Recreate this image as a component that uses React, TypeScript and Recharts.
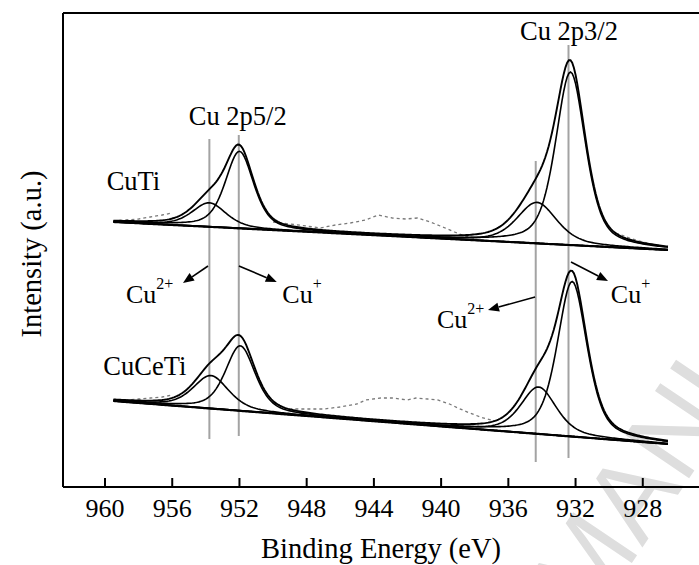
import React from 'react';
import { ComposedChart, Line, XAxis, YAxis, ReferenceLine, ReferenceDot } from 'recharts';

const SERIF = 'Liberation Serif, Tinos, DejaVu Serif, Noto Serif, serif';
const SANS = 'Liberation Sans, Arimo, DejaVu Sans, sans-serif';

// Binding-energy axis (eV, drawn high → low)
const energyTicks = [960, 956, 952, 948, 944, 940, 936, 932, 928];
const energyDomain: [number, number] = [924, 962.5];
const intensityDomain: [number, number] = [0, 474];

// Scan range of the fitted envelopes
const scanStart = 959.5;
const scanEnd = 926.5;
const scanStep = 0.1;

// Linear backgrounds: intensity at scanStart and at scanEnd
const cuTiBackground = [265, 237];
const cuCeTiBackground = [86, 43];

// Fitted components, in order: Cu2+ 2p1/2, Cu+ 2p1/2, Cu2+ 2p3/2, Cu+ 2p3/2
const cuTiCenters = [953.8, 952.0, 934.3, 932.3];
const cuTiHeights = [24, 77, 41, 173];
const cuTiFwhm = [2.4, 2.0, 2.8, 2.1];

const cuCeTiCenters = [953.7, 951.95, 934.2, 932.2];
const cuCeTiHeights = [33, 65, 47, 155];
const cuCeTiFwhm = [2.5, 2.1, 2.5, 2.1];

const lorentzFraction = 0.5;

// Measured counts (null = hidden under the fitted envelope)
const cuTiRaw: [number, number | null][] = [
  [959.5, 266], [958.8, 267], [958.0, 268], [957.3, 270], [956.6, 272], [956.0, 274], [955.4, null],
  [950.0, 265], [949.0, 263], [948.0, 261], [947.2, 259], [946.3, 262], [945.4, 264], [944.5, 267],
  [943.75, 272], [942.9, 269], [942.1, 268], [941.4, 269], [940.65, 265], [939.9, 260], [939.2, 255],
  [938.6, 251], [938.0, 249], [937.5, null],
  [929.6, 254], [928.8, 249], [928.0, 245], [927.2, 242], [926.5, 240],
];

const cuCeTiRaw: [number, number | null][] = [
  [959.5, 87], [958.8, 87], [958.0, 88], [957.3, 89], [956.6, 90], [956.0, 92], [955.4, null],
  [950.0, 85], [949.2, 78], [948.0, 78], [947.0, 78], [946.0, 80], [945.0, 83], [944.5, 87],
  [943.6, 89], [942.9, 89], [942.0, 87], [941.5, 89], [940.8, 88], [940.2, 87], [939.5, 83],
  [939.0, 79], [938.3, 74], [937.5, 69], [936.8, 66], [936.2, null],
  [929.6, 59], [928.8, 54], [928.0, 50], [927.2, 47], [926.5, 45],
];

// Guide lines at the component positions: [energy, lower intensity, upper intensity]
const guideLines: [number, number, number][] = [
  [953.79, 48, 348],
  [952.04, 51, 352],
  [934.37, 25, 326],
  [932.42, 29, 442],
];

// Annotation arrows: [from energy, from intensity, to energy, to intensity]
const arrows: [number, number, number, number][] = [
  [953.87, 221, 955.36, 204],
  [952.03, 221, 949.78, 205],
  [934.41, 190, 937.21, 177],
  [932.27, 225, 930.07, 206],
];

// Species labels: [energy, intensity, main text, superscript]
const speciesLabels: [number, number, string, string][] = [
  [958.75, 184, 'Cu', '2+'],
  [949.45, 184, 'Cu', '+'],
  [940.25, 159, 'Cu', '2+'],
  [929.9, 184, 'Cu', '+'],
];

// Headings: [energy, intensity, text, anchor]
const headings: [number, number, string, 'start' | 'middle'][] = [
  [952.1, 362, 'Cu 2p5/2', 'middle'],
  [932.39, 447, 'Cu 2p3/2', 'middle'],
  [959.9, 297, 'CuTi', 'start'],
  [960.1, 112, 'CuCeTi', 'start'],
];

function pseudoVoigt(x: number, c: number, h: number, w: number) {
  const t = (x - c) / (w / 2);
  const l = 1 / (1 + t * t);
  const g = Math.exp(-Math.LN2 * t * t);
  return h * (lorentzFraction * l + (1 - lorentzFraction) * g);
}

function buildFit(prefix: string, bg: number[], centers: number[], heights: number[], fwhm: number[]) {
  const rows: Record<string, number>[] = [];
  const n = Math.round((scanStart - scanEnd) / scanStep);
  for (let i = 0; i <= n; i++) {
    const x = +(scanStart - i * scanStep).toFixed(2);
    const base = bg[0] + ((scanStart - x) / (scanStart - scanEnd)) * (bg[1] - bg[0]);
    const row: Record<string, number> = { x };
    row[prefix + 'Base'] = base;
    let sum = base;
    centers.forEach((c, k) => {
      const v = pseudoVoigt(x, c, heights[k], fwhm[k]);
      row[prefix + 'C' + k] = base + v;
      sum += v;
    });
    row[prefix + 'Env'] = sum;
    rows.push(row);
  }
  return rows;
}

const cuTiFit = buildFit('t', cuTiBackground, cuTiCenters, cuTiHeights, cuTiFwhm);
const cuCeTiFit = buildFit('b', cuCeTiBackground, cuCeTiCenters, cuCeTiHeights, cuCeTiFwhm);
const fitData = cuTiFit.map((r, i) => ({ ...r, ...cuCeTiFit[i] }));

const toRows = (pts: [number, number | null][]) => pts.map(([x, y]) => ({ x, y }));

const EnergyTick = (props: any) => {
  const { x, y, payload } = props;
  return (
    <g>
      <line x1={x} y1={y} x2={x} y2={y - 9} stroke="#000" strokeWidth={2} />
      <text x={x} y={y + 30} textAnchor="middle" style={{ fontSize: 26, fontFamily: SERIF }} fill="#000">
        {payload.value}
      </text>
    </g>
  );
};

const ArrowShape = (props: any) => {
  const { x1, y1, x2, y2 } = props;
  const a = Math.atan2(y2 - y1, x2 - x1);
  const len = 11;
  const half = 4.5;
  const bx = x2 - len * Math.cos(a);
  const by = y2 - len * Math.sin(a);
  const p1 = `${bx + half * Math.sin(a)},${by - half * Math.cos(a)}`;
  const p2 = `${bx - half * Math.sin(a)},${by + half * Math.cos(a)}`;
  return (
    <g>
      <line x1={x1} y1={y1} x2={bx} y2={by} stroke="#000" strokeWidth={1.6} />
      <polygon points={`${x2},${y2} ${p1} ${p2}`} fill="#000" />
    </g>
  );
};

const blackLines = [
  { key: 'Base', w: 2.2 },
  { key: 'C0', w: 1.6 },
  { key: 'C1', w: 1.6 },
  { key: 'C2', w: 1.6 },
  { key: 'C3', w: 1.6 },
  { key: 'Env', w: 1.9 },
];

export default function App() {
  return (
    <div style={{ position: 'absolute', left: 0, top: 0, width: 699, height: 565, overflow: 'hidden', background: '#fff' }}>
      <svg width={699} height={565} style={{ position: 'absolute', left: 0, top: 0 }}>
        <text
          x={590}
          y={625}
          transform="rotate(-56 590 625)"
          style={{ fontSize: 112, fontFamily: SANS }}
          fill="#dedede"
        >
          MANUSCRIPT
        </text>
      </svg>
      <div style={{ position: 'absolute', left: 0, top: 0 }}>
        <ComposedChart width={710} height={565} data={fitData} margin={{ top: 13, right: 0, bottom: 0, left: 0 }}>
          <XAxis
            dataKey="x"
            type="number"
            domain={energyDomain}
            reversed
            ticks={energyTicks}
            interval={0}
            height={78}
            tickLine={false}
            tickSize={0}
            tickMargin={0}
            axisLine={{ stroke: '#000', strokeWidth: 2 }}
            tick={<EnergyTick />}
            allowDataOverflow
          />
          <YAxis
            type="number"
            domain={intensityDomain}
            width={63}
            tick={false}
            tickLine={false}
            axisLine={{ stroke: '#000', strokeWidth: 2 }}
            allowDataOverflow
          />
          <ReferenceLine y={intensityDomain[1]} stroke="#000" strokeWidth={2} />
          {guideLines.map(([e, lo, hi], i) => (
            <ReferenceLine
              key={'g' + i}
              segment={[{ x: e, y: lo }, { x: e, y: hi }]}
              stroke="#a3a3a3"
              strokeWidth={2}
            />
          ))}
          <Line
            data={toRows(cuTiRaw)}
            dataKey="y"
            stroke="#7a7a7a"
            strokeWidth={1.3}
            strokeDasharray="3 3"
            dot={false}
            connectNulls={false}
            isAnimationActive={false}
          />
          <Line
            data={toRows(cuCeTiRaw)}
            dataKey="y"
            stroke="#7a7a7a"
            strokeWidth={1.3}
            strokeDasharray="3 3"
            dot={false}
            connectNulls={false}
            isAnimationActive={false}
          />
          {['t', 'b'].flatMap((p) =>
            blackLines.map((l) => (
              <Line
                key={p + l.key}
                dataKey={p + l.key}
                stroke="#000"
                strokeWidth={l.w}
                dot={false}
                type="linear"
                isAnimationActive={false}
              />
            ))
          )}
          {arrows.map(([e1, v1, e2, v2], i) => (
            <ReferenceLine
              key={'a' + i}
              segment={[{ x: e1, y: v1 }, { x: e2, y: v2 }]}
              shape={<ArrowShape />}
            />
          ))}
          {speciesLabels.map(([e, v, main, sup], i) => (
            <ReferenceDot
              key={'s' + i}
              x={e}
              y={v}
              r={0}
              shape={(p: any) => (
                <text x={p.cx} y={p.cy} style={{ fontSize: 26, fontFamily: SERIF }} fill="#000">
                  {main}
                  <tspan dy={-14} style={{ fontSize: 16 }}>{sup}</tspan>
                </text>
              )}
            />
          ))}
          {headings.map(([e, v, txt, anchor], i) => (
            <ReferenceDot
              key={'h' + i}
              x={e}
              y={v}
              r={0}
              shape={(p: any) => (
                <text x={p.cx} y={p.cy} textAnchor={anchor} style={{ fontSize: 26.5, fontFamily: SERIF }} fill="#000">
                  {txt}
                </text>
              )}
            />
          ))}
        </ComposedChart>
      </div>
      <svg width={699} height={565} style={{ position: 'absolute', left: 0, top: 0, pointerEvents: 'none' }}>
        <text x={381} y={558} textAnchor="middle" style={{ fontSize: 28.5, fontFamily: SERIF }} fill="#000">
          Binding Energy (eV)
        </text>
        <text x={41} y={254} transform="rotate(-90 41 254)" textAnchor="middle" style={{ fontSize: 28.5, fontFamily: SERIF }} fill="#000">
          Intensity (a.u.)
        </text>
      </svg>
    </div>
  );
}
